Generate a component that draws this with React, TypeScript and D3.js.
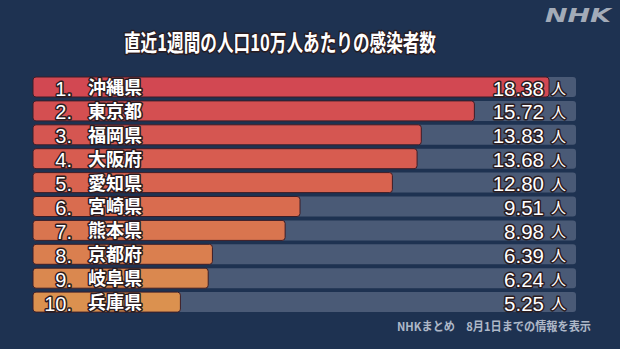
import React from "react";
import * as d3 from "d3";

const ranks = ["1.", "2.", "3.", "4.", "5.", "6.", "7.", "8.", "9.", "10."];
const prefectures = ["沖縄県", "東京都", "福岡県", "大阪府", "愛知県", "宮崎県", "熊本県", "京都府", "岐阜県", "兵庫県"];
const values = [18.38, 15.72, 13.83, 13.68, 12.8, 9.51, 8.98, 6.39, 6.24, 5.25];
const title = "直近1週間の人口10万人あたりの感染者数";
const footer = "NHKまとめ　8月1日までの情報を表示";
const unit = "人";

const W = 620;
const H = 349;

export default function App() {
  const x = d3.scaleLinear().domain([0, 19.34]).range([33, 576]);
  const y = d3
    .scaleBand<string>()
    .domain(ranks)
    .range([77, 312.1])
    .paddingInner(0.163)
    .paddingOuter(0);
  const color = d3
    .scaleLinear<string>()
    .domain([0, 4, 9])
    .range(["#d24852", "#d8634f", "#db914f"])
    .interpolate(d3.interpolateRgb);
  const bw = y.bandwidth();
  const outline = {
    stroke: "#2a1c20",
    strokeWidth: 3,
    paintOrder: "stroke" as const,
    strokeLinejoin: "round" as const,
  };

  return (
    <svg
      width={W}
      height={H}
      style={{ position: "absolute", left: 0, top: 0, display: "block" }}
    >
      <rect x={0} y={0} width={W} height={H} fill="#1e3251" />
      <text
        x={545}
        y={22}
        fill="#a3abb8"
        fontFamily="'DejaVu Sans', sans-serif"
        fontWeight="bold"
        fontStyle="italic"
        fontSize={20}
        textLength={66}
        lengthAdjust="spacingAndGlyphs"
      >
        NHK
      </text>
      <text
        x={124}
        y={51}
        fill="#ffffff"
        fontFamily="'Noto Sans CJK JP', sans-serif"
        fontWeight="bold"
        fontSize={23}
        textLength={312}
        lengthAdjust="spacingAndGlyphs"
        {...outline}
      >
        {title}
      </text>
      {ranks.map((r, i) => {
        const top = y(r)!;
        return (
          <g key={r}>
            <rect
              x={x(0)}
              y={top}
              width={x.range()[1] - x(0)}
              height={bw}
              rx={3}
              fill="#4a5a76"
            />
            <rect
              x={x(0)}
              y={top}
              width={x(values[i]) - x(0)}
              height={bw}
              rx={3}
              fill={color(i)}
              stroke="#3b1d28"
              strokeWidth={1}
            />
            <text
              x={72}
              y={top + 18.5}
              textAnchor="end"
              fill="#ffffff"
              fontFamily="'Liberation Sans', sans-serif"
              fontSize={20}
              {...outline}
            >
              {r}
            </text>
            <text
              x={88}
              y={top + 17}
              fill="#ffffff"
              fontFamily="'Noto Sans CJK JP', sans-serif"
              fontWeight="bold"
              fontSize={18}
              {...outline}
            >
              {prefectures[i]}
            </text>
            <text
              x={544}
              y={top + 18.5}
              textAnchor="end"
              fill="#ffffff"
              fontFamily="'Liberation Sans', sans-serif"
              fontSize={20.5}
              {...outline}
            >
              {values[i].toFixed(2)}
            </text>
            <text
              x={551}
              y={top + 17}
              fill="#ffffff"
              fontFamily="'Noto Sans CJK JP', sans-serif"
              fontSize={15}
              {...outline}
            >
              {unit}
            </text>
          </g>
        );
      })}
      <text
        x={591}
        y={331}
        textAnchor="end"
        fill="#aeb8c8"
        fontFamily="'Noto Sans CJK JP', sans-serif"
        fontWeight="bold"
        fontSize={12}
        textLength={194}
        lengthAdjust="spacingAndGlyphs"
      >
        {footer}
      </text>
    </svg>
  );
}
